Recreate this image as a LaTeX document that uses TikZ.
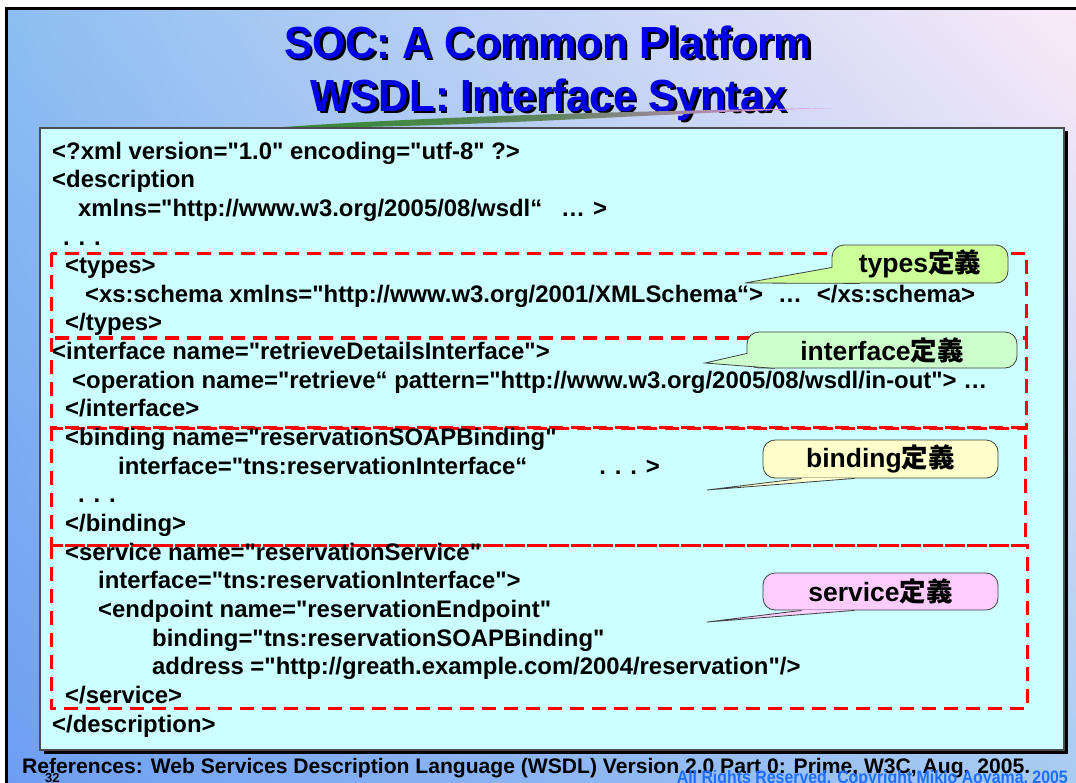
\documentclass[tikz,border=0pt]{standalone}
\usepackage{fontspec}
\setmainfont{Liberation Sans}[Ligatures=TeXOff]
\newfontfamily\cjk{Noto Sans CJK JP}
\usetikzlibrary{calc,shadings}
\definecolor{boxc}{HTML}{CCFFFF}
\definecolor{redd}{HTML}{FF0000}
\definecolor{ctypes}{HTML}{CCFF99}
\definecolor{cint}{HTML}{CCFFCC}
\definecolor{cbind}{HTML}{FFFFCC}
\definecolor{cserv}{HTML}{FFCCFF}
\definecolor{titleblue}{HTML}{0000E6}
\definecolor{copyblue}{HTML}{1E6EFF}
\definecolor{bgul}{HTML}{8CBEF2}
\definecolor{bgur}{HTML}{FAEAF8}
\definecolor{bgll}{HTML}{6E9EF2}
\definecolor{bglr}{HTML}{A8CCF2}
\definecolor{swg}{HTML}{2E8B2E}
\definecolor{swp}{HTML}{F090E8}
\newcommand\codefont{\fontsize{23.9}{28}\selectfont\bfseries}
\newcommand\callfont{\fontsize{26.5}{28}\selectfont\bfseries}
\newcommand\titlefont{\fontsize{45}{50}\selectfont\bfseries}
\begin{document}
\begin{tikzpicture}[x=1pt,y=-1pt,
  code/.style={anchor=base west, inner sep=0pt, font=\codefont},
  section/.style={draw=redd, line width=3pt, dash pattern=on 14pt off 8pt},
  callbox/.style={draw=black!75, line width=0.8pt, rounded corners=12pt, inner sep=0pt, font=\callfont},
  tail/.style={draw=black!75, line width=0.8pt},
  ttl/.style={anchor=base, inner sep=0pt, font=\titlefont}]
\useasboundingbox (0,0) rectangle (1076,782);
% background
\fill[white] (0,0) rectangle (1076,782);
\shade[upper left=bgul, upper right=bgur, lower left=bgll, lower right=bglr] (6,8) rectangle (1076,782);
\draw[black, line width=3pt] (6.5,790) -- (6.5,8.5) -- (1090,8.5);
% title
\node[ttl, black] (t1s) at (550.5,60.5) {\resizebox{527pt}{\height}{SOC: A Common Platform}};
\node[ttl, titleblue] (t1) at (548,58) {\resizebox{527pt}{\height}{SOC: A Common Platform}};
\node[ttl, black] (t2s) at (551.5,113.5) {\resizebox{476pt}{\height}{WSDL: Interface Syntax}};
\node[ttl, titleblue] (t2) at (549,111) {\resizebox{476pt}{\height}{WSDL: Interface Syntax}};
% swoosh
\shade[left color=swg, right color=swp, middle color=gray!60!swg]
  (270,128) .. controls (420,117) and (620,111) .. (832,108)
  .. controls (640,114) and (480,127.5) .. (270,128) -- cycle;
% code box
\fill[black] (43.5,131) rectangle (1067.5,753.5);
\filldraw[fill=boxc, draw=black!70, line width=1.2pt] (40,128) rectangle (1064,750);
% sections
\draw[section] (51,253) rectangle (1026,337);
\draw[section] (51,338) rectangle (1026,428);
\draw[section] (51,427) rectangle (1025,545);
\draw[section] (51,545) rectangle (1027,708);
% code lines
\node[code] (l1) at (52,159) {<?xml version="1.0" encoding="utf-8" ?>};
\node[code] (l2) at (52,187.7) {<description};
\node[code] (l3) at (78,216.3) {xmlns="http://www.w3.org/2005/08/wsdl“\hspace{19pt}…\hspace{8pt}>};
\node[code] (l4) at (63,245) {. . .};
\node[code] (l5) at (65,273.6) {<types>};
\node[code] (l6) at (85,302.3) {<xs:schema xmlns="http://www.w3.org/2001/XMLSchema“>\hspace{15pt}…\hspace{15pt}</xs:schema>};
\node[code] (l7) at (65,330.9) {</types>};
\node[code] (l8) at (52,359.6) {<interface name="retrieveDetailsInterface">};
\node[code] (l9) at (72,388.2) {<operation name="retrieve“ pattern="http://www.w3.org/2005/08/wsdl/in-out"> …};
\node[code] (l10) at (65,416.9) {</interface>};
\node[code] (l11) at (65,445.5) {<binding name="reservationSOAPBinding"};
\node[code] (l12) at (118,474.2) {interface="tns:reservationInterface“\hspace{72pt}. . . >};
\node[code] (l13) at (78,502.8) {. . .};
\node[code] (l14) at (65,531.5) {</binding>};
\node[code] (l15) at (65,560.1) {<service name="reservationService"};
\node[code] (l16) at (98,588.8) {interface="tns:reservationInterface">};
\node[code] (l17) at (98,617.4) {<endpoint name="reservationEndpoint"};
\node[code] (l18) at (152,646.1) {binding="tns:reservationSOAPBinding"};
\node[code] (l19) at (152,674.7) {address ="http://greath.example.com/2004/reservation"/>};
\node[code] (l20) at (65,703.4) {</service>};
\node[code] (l21) at (52,732) {</description>};
% callouts
\coordinate (ptypes) at (745,283);
\coordinate (pint) at (705,363);
\coordinate (pbind) at (707,490);
\coordinate (pserv) at (707,622);
\node[callbox, fill=ctypes, minimum width=176pt, minimum height=38pt] (ctypes) at (920,264) {types{\cjk 定義}};
\fill[ctypes] ($(ctypes.south west)+(1.5,-16)$) -- (ptypes) -- ($(ctypes.south west)+(28,-0.6)$) -- cycle;
\draw[tail] ($(ctypes.south west)+(0.4,-16)$) -- (ptypes) -- ($(ctypes.south west)+(28,0)$);
\node[callbox, fill=cint, minimum width=270pt, minimum height=36pt] (cint) at (882,350) {interface{\cjk 定義}};
\fill[cint] ($(cint.south west)+(1.5,-15)$) -- (pint) -- ($(cint.south west)+(28,-0.6)$) -- cycle;
\draw[tail] ($(cint.south west)+(0.4,-15)$) -- (pint) -- ($(cint.south west)+(28,0)$);
\node[callbox, fill=cbind, minimum width=235pt, minimum height=38pt] (cbind) at (880.5,459) {binding{\cjk 定義}};
\fill[cbind] ($(cbind.south west)+(39,-0.6)$) -- (pbind) -- ($(cbind.south west)+(92,-0.6)$) -- cycle;
\draw[tail] ($(cbind.south west)+(39,0)$) -- (pbind) -- ($(cbind.south west)+(92,0)$);
\node[callbox, fill=cserv, minimum width=235pt, minimum height=37pt] (cserv) at (880.5,591.5) {service{\cjk 定義}};
\fill[cserv] ($(cserv.south west)+(39,-0.6)$) -- (pserv) -- ($(cserv.south west)+(92,-0.6)$) -- cycle;
\draw[tail] ($(cserv.south west)+(39,0)$) -- (pserv) -- ($(cserv.south west)+(92,0)$);
% footer
\node[anchor=base west, inner sep=0pt, font=\fontsize{21}{24}\selectfont\bfseries] (ref) at (22,773)
  {\resizebox{1008pt}{\height}{References: Web Services Description Language (WSDL) Version 2.0 Part 0: Prime, W3C, Aug. 2005.}};
\node[anchor=base west, inner sep=0pt, font=\fontsize{13}{14}\selectfont\bfseries] (pg) at (45,782) {32};
\node[anchor=base east, inner sep=0pt, font=\fontsize{18}{20}\selectfont\bfseries, text=copyblue] (copy) at (1068,783)
  {\resizebox{391pt}{\height}{All Rights Reserved. Copyright Mikio Aoyama, 2005}};
\end{tikzpicture}
\end{document}
